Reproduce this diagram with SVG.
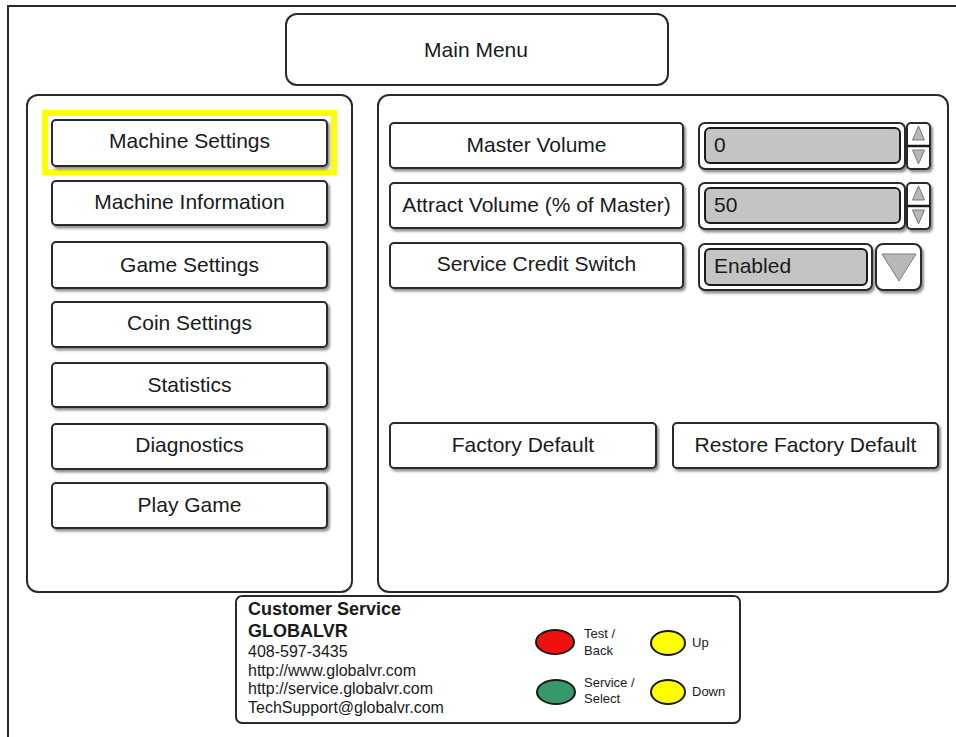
<svg xmlns="http://www.w3.org/2000/svg" width="956" height="737" viewBox="0 0 956 737">
<defs>
<filter id="sh" x="-10%" y="-20%" width="130%" height="150%">
<feDropShadow dx="2" dy="2.5" stdDeviation="1.2" flood-color="#444" flood-opacity="0.6"/>
</filter>
</defs>
<style>
.frame{fill:none;stroke:#2a2a2a;stroke-width:2}
.panel{fill:#fff;stroke:#2a2a2a;stroke-width:2}
.btn{fill:#fff;stroke:#2a2a2a;stroke-width:2;filter:url(#sh)}
.bt{font-family:"Liberation Sans",Arial,sans-serif;font-size:21px;fill:#1a1a1a;text-anchor:middle}
.vt{font-family:"Liberation Sans",Arial,sans-serif;font-size:21px;fill:#1a1a1a}
.field{fill:#c4c4c4;stroke:#1a1a1a;stroke-width:2}
.tri{fill:#b8b8b8;stroke:#7a7a7a;stroke-width:1}
.cs{font-family:"Liberation Sans",Arial,sans-serif;font-size:16px;fill:#1a1a1a}
.csb{font-family:"Liberation Sans",Arial,sans-serif;font-size:18px;font-weight:bold;fill:#1a1a1a}
.lg{font-family:"Liberation Sans",Arial,sans-serif;font-size:13px;fill:#1a1a1a}
.btnc{stroke:#1a1a1a;stroke-width:2}
</style>
<rect width="956" height="737" fill="#fff"/>
<path class="frame" d="M8,737 V6 H956"/>

<g id="main-menu">
<rect x="286" y="14" width="382" height="71" rx="11" class="panel"/>
<text x="476" y="57" class="bt">Main Menu</text>
</g>

<g id="left-panel">
<rect x="27" y="95" width="325" height="497" rx="11" class="panel"/>
</g>
<g id="right-panel">
<rect x="378" y="95" width="570" height="497" rx="11" class="panel"/>
</g>

<g id="highlight">
<rect x="45" y="113" width="289" height="59" fill="none" stroke="#ffff00" stroke-width="6"/>
</g>

<g id="btn-machine-settings">
<rect x="52" y="120" width="275" height="46" rx="4" class="btn"/>
<text x="189.5" y="148" class="bt">Machine Settings</text>
</g>
<g id="btn-machine-information">
<rect x="52" y="181" width="275" height="44" rx="4" class="btn"/>
<text x="189.5" y="209" class="bt">Machine Information</text>
</g>
<g id="btn-game-settings">
<rect x="52" y="242" width="275" height="46" rx="4" class="btn"/>
<text x="189.5" y="272" class="bt">Game Settings</text>
</g>
<g id="btn-coin-settings">
<rect x="52" y="302" width="275" height="45" rx="4" class="btn"/>
<text x="189.5" y="330" class="bt">Coin Settings</text>
</g>
<g id="btn-statistics">
<rect x="52" y="363" width="275" height="44" rx="4" class="btn"/>
<text x="189.5" y="392" class="bt">Statistics</text>
</g>
<g id="btn-diagnostics">
<rect x="52" y="424" width="275" height="45" rx="4" class="btn"/>
<text x="189.5" y="452" class="bt">Diagnostics</text>
</g>
<g id="btn-play-game">
<rect x="52" y="483" width="275" height="45" rx="4" class="btn"/>
<text x="189.5" y="512" class="bt">Play Game</text>
</g>

<g id="btn-master-volume">
<rect x="390" y="123" width="293" height="45" rx="4" class="btn"/>
<text x="536.5" y="152" class="bt">Master Volume</text>
</g>
<g id="field-master-volume">
<rect x="699" y="123" width="206" height="46" rx="6" class="btn"/>
<rect x="705" y="128" width="195" height="35" rx="5" class="field"/>
<text x="714" y="152" class="vt">0</text>
</g>
<g id="spin-master-volume">
<rect x="907" y="123" width="23" height="46" rx="4" class="btn"/>
<line x1="907" y1="146" x2="930" y2="146" stroke="#1a1a1a" stroke-width="2.5"/>
<polygon points="918.5,126 912.5,140 924.5,140" class="tri"/>
<polygon points="912.5,150 924.5,150 918.5,164" class="tri"/>
</g>

<g id="btn-attract-volume">
<rect x="390" y="183" width="293" height="45" rx="4" class="btn"/>
<text x="536.5" y="212" class="bt">Attract Volume (% of Master)</text>
</g>
<g id="field-attract-volume">
<rect x="699" y="183" width="206" height="46" rx="6" class="btn"/>
<rect x="705" y="188" width="195" height="35" rx="5" class="field"/>
<text x="714" y="212" class="vt">50</text>
</g>
<g id="spin-attract-volume">
<rect x="907" y="183" width="23" height="46" rx="4" class="btn"/>
<line x1="907" y1="206" x2="930" y2="206" stroke="#1a1a1a" stroke-width="2.5"/>
<polygon points="918.5,186 912.5,200 924.5,200" class="tri"/>
<polygon points="912.5,210 924.5,210 918.5,224" class="tri"/>
</g>

<g id="btn-service-credit">
<rect x="390" y="243" width="293" height="45" rx="4" class="btn"/>
<text x="536.5" y="271" class="bt">Service Credit Switch</text>
</g>
<g id="field-service-credit">
<rect x="699" y="244" width="173" height="46" rx="6" class="btn"/>
<rect x="705" y="249" width="162" height="36" rx="5" class="field"/>
<text x="714" y="273" class="vt">Enabled</text>
</g>
<g id="dropdown-service-credit">
<rect x="876" y="244" width="45" height="46" rx="7" class="btn"/>
<polygon points="882,254 916,254 899,281" class="tri"/>
</g>

<g id="btn-factory-default">
<rect x="390" y="423" width="266" height="45" rx="4" class="btn"/>
<text x="523" y="452" class="bt">Factory Default</text>
</g>
<g id="btn-restore-factory-default">
<rect x="673" y="423" width="265" height="45" rx="4" class="btn"/>
<text x="805.5" y="452" class="bt">Restore Factory Default</text>
</g>

<g id="customer-service">
<rect x="236" y="596" width="504" height="127" rx="6" class="panel"/>
<text x="248" y="615" class="csb">Customer Service</text>
<text x="248" y="637" class="csb">GLOBALVR</text>
<text x="248" y="657" class="cs">408-597-3435</text>
<text x="248" y="676" class="cs">http://www.globalvr.com</text>
<text x="248" y="694" class="cs">http://service.globalvr.com</text>
<text x="248" y="713" class="cs">TechSupport@globalvr.com</text>
</g>

<g id="legend-test-back">
<ellipse cx="555" cy="642" rx="19" ry="12" fill="#f01010" class="btnc"/>
<text x="584" y="638" class="lg">Test /</text>
<text x="584" y="655" class="lg">Back</text>
</g>
<g id="legend-up">
<ellipse cx="668" cy="643" rx="17" ry="12" fill="#ffff00" class="btnc"/>
<text x="692" y="647" class="lg">Up</text>
</g>
<g id="legend-service-select">
<ellipse cx="556" cy="692" rx="19" ry="12" fill="#36996b" class="btnc"/>
<text x="584" y="687" class="lg">Service /</text>
<text x="584" y="703" class="lg">Select</text>
</g>
<g id="legend-down">
<ellipse cx="668" cy="692" rx="17" ry="12" fill="#ffff00" class="btnc"/>
<text x="692" y="696" class="lg">Down</text>
</g>
<g id="connectors"/>
</svg>
